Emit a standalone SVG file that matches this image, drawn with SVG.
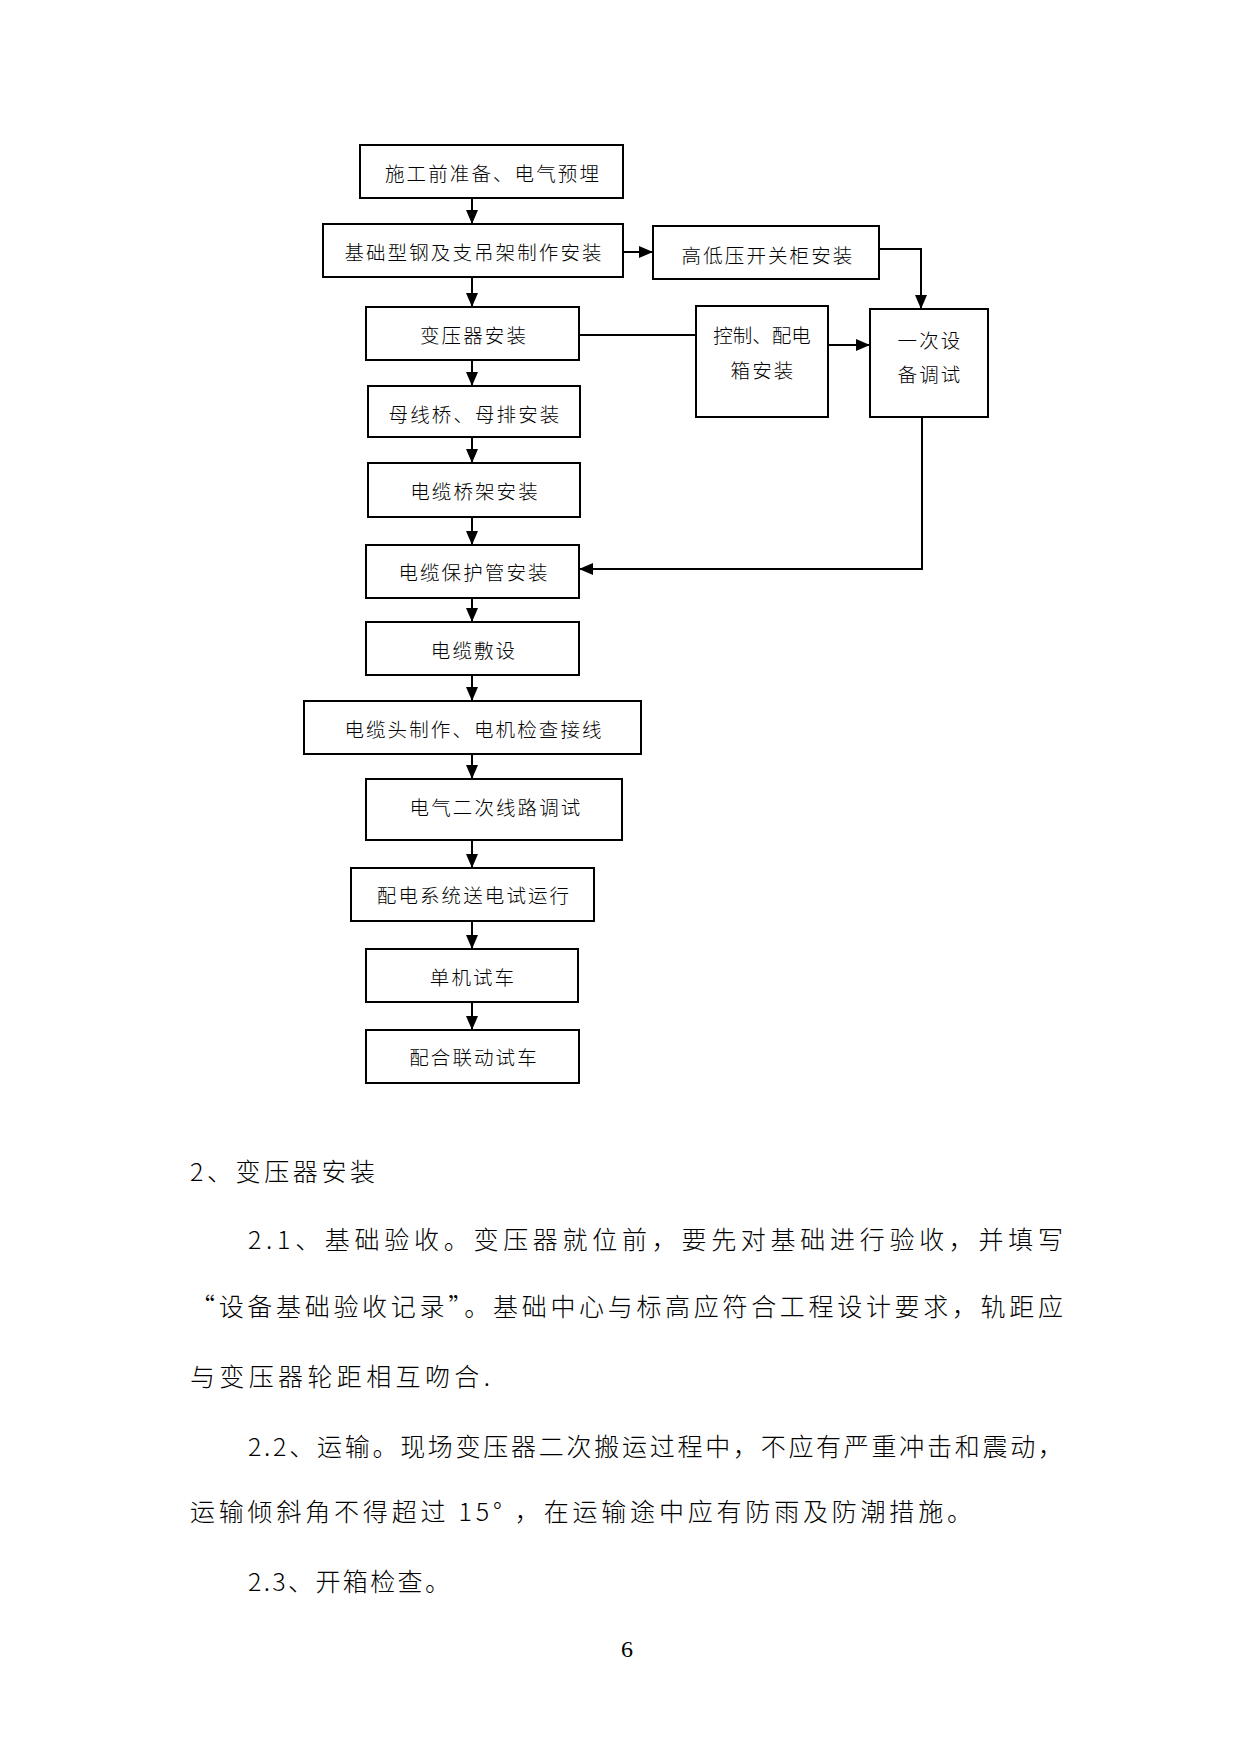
<svg xmlns="http://www.w3.org/2000/svg" width="1241" height="1755" viewBox="0 0 1241 1755">
<style>
.box{fill:#fff;stroke:#000;stroke-width:2}
.lbl{font-family:"Noto Sans CJK SC","Noto Sans CJK JP",sans-serif;font-size:19.5px;font-weight:300;letter-spacing:2.1px;text-anchor:middle;fill:#000}
.con{fill:none;stroke:#000;stroke-width:2}
.body{font-family:"Noto Sans CJK SC","Noto Sans CJK JP",sans-serif;font-size:25px;font-weight:300;fill:#000}
.pg{font-family:"Liberation Serif",serif;font-size:24px;text-anchor:middle;fill:#000}
</style>
<defs>
<marker id="ah" markerUnits="userSpaceOnUse" markerWidth="14" markerHeight="12" refX="14" refY="6" orient="auto">
<path d="M0,0 L14,6 L0,12 z" fill="#000"/>
</marker>
</defs>
<rect width="1241" height="1755" fill="#fff"/>
<g id="connectors">
<line class="con" x1="472" y1="198" x2="472" y2="224" marker-end="url(#ah)"/>
<line class="con" x1="472" y1="277" x2="472" y2="307" marker-end="url(#ah)"/>
<line class="con" x1="472" y1="360" x2="472" y2="386" marker-end="url(#ah)"/>
<line class="con" x1="472" y1="437" x2="472" y2="463" marker-end="url(#ah)"/>
<line class="con" x1="472" y1="517" x2="472" y2="545" marker-end="url(#ah)"/>
<line class="con" x1="472" y1="598" x2="472" y2="622" marker-end="url(#ah)"/>
<line class="con" x1="472" y1="675" x2="472" y2="701" marker-end="url(#ah)"/>
<line class="con" x1="472" y1="754" x2="472" y2="779" marker-end="url(#ah)"/>
<line class="con" x1="472" y1="840" x2="472" y2="868" marker-end="url(#ah)"/>
<line class="con" x1="472" y1="921" x2="472" y2="949" marker-end="url(#ah)"/>
<line class="con" x1="472" y1="1002" x2="472" y2="1030" marker-end="url(#ah)"/>
<line class="con" x1="623" y1="252" x2="653" y2="252" marker-end="url(#ah)"/>
<polyline class="con" points="879,249 921,249 921,309" marker-end="url(#ah)"/>
<line class="con" x1="579" y1="335" x2="696" y2="335"/>
<line class="con" x1="828" y1="345" x2="870" y2="345" marker-end="url(#ah)"/>
<polyline class="con" points="922,417 922,569 579,569" marker-end="url(#ah)"/>
</g>
<g id="n1"><rect class="box" x="360" y="145" width="263" height="53"/><text class="lbl" x="493" y="180.5">施工前准备、电气预埋</text></g>
<g id="n2"><rect class="box" x="323" y="224" width="300" height="53"/><text class="lbl" x="474" y="260">基础型钢及支吊架制作安装</text></g>
<g id="n3"><rect class="box" x="653" y="226" width="226" height="53"/><text class="lbl" x="768" y="263">高低压开关柜安装</text></g>
<g id="n4"><rect class="box" x="366" y="307" width="213" height="53"/><text class="lbl" x="474" y="343">变压器安装</text></g>
<g id="n5"><rect class="box" x="696" y="306" width="132" height="111"/><text class="lbl" x="762" y="343" style="letter-spacing:0">控制、配电</text><text class="lbl" x="763" y="378">箱安装</text></g>
<g id="n6"><rect class="box" x="870" y="309" width="118" height="108"/><text class="lbl" x="930" y="348">一次设</text><text class="lbl" x="930" y="382">备调试</text></g>
<g id="n7"><rect class="box" x="368" y="386" width="212" height="51"/><text class="lbl" x="475" y="422">母线桥、母排安装</text></g>
<g id="n8"><rect class="box" x="368" y="463" width="212" height="54"/><text class="lbl" x="475" y="499">电缆桥架安装</text></g>
<g id="n9"><rect class="box" x="366" y="545" width="213" height="53"/><text class="lbl" x="474" y="580">电缆保护管安装</text></g>
<g id="n10"><rect class="box" x="366" y="622" width="213" height="53"/><text class="lbl" x="474" y="658">电缆敷设</text></g>
<g id="n11"><rect class="box" x="304" y="701" width="337" height="53"/><text class="lbl" x="474" y="736.5">电缆头制作、电机检查接线</text></g>
<g id="n12"><rect class="box" x="366" y="779" width="256" height="61"/><text class="lbl" x="496" y="815">电气二次线路调试</text></g>
<g id="n13"><rect class="box" x="351" y="868" width="243" height="53"/><text class="lbl" x="474" y="903">配电系统送电试运行</text></g>
<g id="n14"><rect class="box" x="366" y="949" width="212" height="53"/><text class="lbl" x="473" y="985">单机试车</text></g>
<g id="n15"><rect class="box" x="366" y="1030" width="213" height="53"/><text class="lbl" x="474" y="1065">配合联动试车</text></g>
<g id="body">
<text class="body" x="190" y="1181" textLength="185" lengthAdjust="spacing">2、变压器安装</text>
<text class="body" x="248" y="1249" textLength="815" lengthAdjust="spacing">2.1、基础验收。变压器就位前，要先对基础进行验收，并填写</text>
<text class="body" x="190" y="1316" textLength="873" lengthAdjust="spacing">“设备基础验收记录”。基础中心与标高应符合工程设计要求，轨距应</text>
<text class="body" x="190" y="1386" textLength="300" lengthAdjust="spacing">与变压器轮距相互吻合.</text>
<text class="body" x="248" y="1456" textLength="815" lengthAdjust="spacing">2.2、运输。现场变压器二次搬运过程中，不应有严重冲击和震动，</text>
<text class="body" x="190" y="1521" textLength="782" lengthAdjust="spacing">运输倾斜角不得超过 15° ，在运输途中应有防雨及防潮措施。</text>
<text class="body" x="248" y="1591" textLength="202" lengthAdjust="spacing">2.3、开箱检查。</text>
<text class="pg" x="627" y="1656.5">6</text>
</g>
</svg>
